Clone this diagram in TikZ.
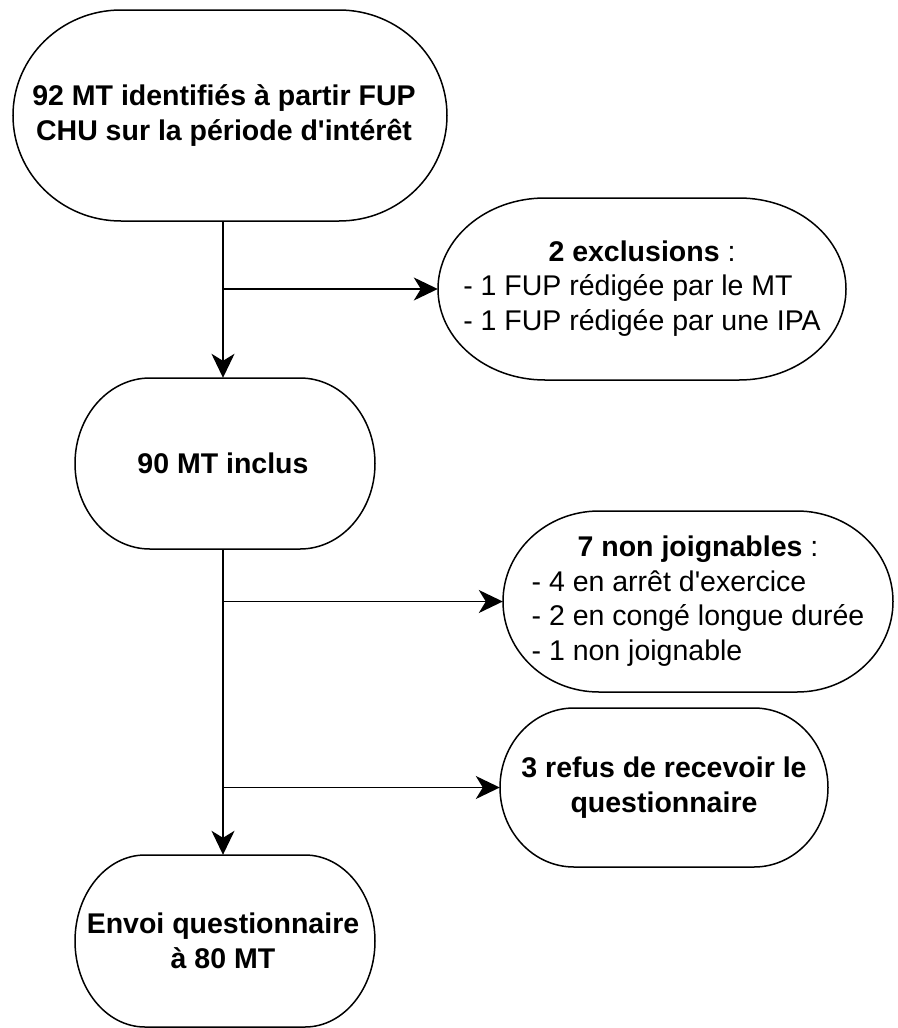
\documentclass[tikz,border=0pt]{standalone}
\usepackage{fontspec}
\newfontfamily\arial{Liberation Sans}
\usetikzlibrary{arrows.meta}
\tikzset{
  outline/.style={draw=black, line width=1.5pt},
  conn/.style={draw=black, line width=1.6pt, -{Stealth[length=24pt,width=23pt,inset=7pt]}},
  txt/.style={inner sep=0pt, align=center, font=\arial\fontsize{28.5}{34.5}\selectfont},
  boldtxt/.style={txt, font=\arial\fontsize{28.5}{34.5}\selectfont\bfseries},
}
% #1 cx, #2 cy, #3 half width, #4 half height, #5 corner x radius
\newcommand\stadium[5]{%
  \draw[outline] ({#1-#3+#5},{#2-#4}) -- ({#1+#3-#5},{#2-#4})
    arc[start angle=-90,end angle=90,x radius=#5,y radius=#4]
    -- ({#1-#3+#5},{#2+#4})
    arc[start angle=90,end angle=270,x radius=#5,y radius=#4] -- cycle;}
\begin{document}
\begin{tikzpicture}[x=1pt,y=-1pt]
\useasboundingbox (0,0) rectangle (897,1028);
% outlines
\stadium{230}{115.5}{217}{105.5}{108}
\stadium{642}{289}{204}{91}{107}
\stadium{225}{463.5}{150}{85.5}{75}
\stadium{698}{601.5}{195}{90.5}{96}
\stadium{664}{787.5}{164}{79.5}{74}
\stadium{225}{941}{150}{86}{70}
% nodes
\node[boldtxt, minimum width=434pt, minimum height=211pt] (n1) at (224,115.5)
  {92 MT identifiés à partir FUP\\CHU sur la période d'intérêt};
\node[txt, minimum width=408pt, minimum height=182pt] (ex) at (642,289)
  {\begin{tabular}{@{}l@{}}\multicolumn{1}{@{}c@{}}{\textbf{2 exclusions} :}\\- 1 FUP rédigée par le MT\\- 1 FUP rédigée par une IPA\end{tabular}};
\node[boldtxt, minimum width=300pt, minimum height=171pt] (n2) at (223,463.5)
  {90 MT inclus};
\node[txt, minimum width=390pt, minimum height=181pt] (nj) at (698,601.5)
  {\begin{tabular}{@{}l@{}}\multicolumn{1}{@{}c@{}}{\textbf{7 non joignables} :}\\- 4 en arrêt d'exercice\\- 2 en congé longue durée\\- 1 non joignable\end{tabular}};
\node[boldtxt, minimum width=328pt, minimum height=159pt] (rf) at (664,787.5)
  {3 refus de recevoir le\\questionnaire};
\node[boldtxt, minimum width=300pt, minimum height=172pt] (n4) at (223,941)
  {Envoi questionnaire\\à 80 MT};
% connectors
\draw[conn] (n2.north |- n1.south) -- (n2.north);
\draw[conn] (n2.north |- ex.west) -- (ex.west);
\draw[conn] (n2.south) -- (n4.north);
\draw[conn] (n2.south |- nj.west) -- (nj.west);
\draw[conn] (n2.south |- rf.west) -- (rf.west);
\end{tikzpicture}
\end{document}
